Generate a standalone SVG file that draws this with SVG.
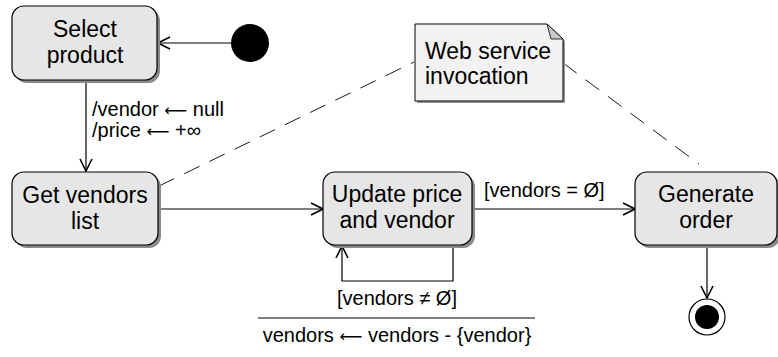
<svg xmlns="http://www.w3.org/2000/svg" width="778" height="357" viewBox="0 0 778 357">
<style>
.node{fill:#e6e6e6;stroke:#000;stroke-width:1.2}
.shadow{fill:#8a8a8a}
.t{font-family:"Liberation Sans",Arial,sans-serif;font-size:23px;fill:#000}
.c{text-anchor:middle}
.l{font-family:"Liberation Sans",Arial,sans-serif;font-size:20px;fill:#000}
.a{font-family:"DejaVu Sans",sans-serif;font-size:16px}
.e{fill:none;stroke:#000;stroke-width:1.2}
.d{fill:none;stroke:#000;stroke-width:0.9;stroke-dasharray:17 11}
</style>
<defs>
<marker id="open" viewBox="0 0 14 14" refX="13" refY="7" markerWidth="14" markerHeight="14" markerUnits="userSpaceOnUse" orient="auto">
<path d="M1,1 L13,7 L1,13" fill="none" stroke="#000" stroke-width="1.6"/>
</marker>
</defs>
<g id="edges">
<path class="e" d="M231,43 H158" marker-end="url(#open)"/>
<path class="e" d="M86,80 V171" marker-end="url(#open)"/>
<path class="e" d="M158,209 H323" marker-end="url(#open)"/>
<path class="e" d="M472,209 H635" marker-end="url(#open)"/>
<path class="e" d="M453,245 V281 H342 V246" marker-end="url(#open)"/>
<path class="e" d="M707,245 V298" marker-end="url(#open)"/>
<path class="d" d="M159,186 L414,62"/>
<path class="d" d="M563,63 L699,164"/>
<text class="l" x="92" y="116">/vendor <tspan class="a">⟵</tspan> null</text>
<text class="l" x="92" y="137">/price <tspan class="a">⟵</tspan> +∞</text>
<text class="l" x="484" y="197">[vendors = Ø]</text>
<text class="l c" x="397" y="305">[vendors ≠ Ø]</text>
<line x1="258" y1="318" x2="535" y2="318" stroke="#000" stroke-width="1"/>
<text class="l c" x="397" y="342">vendors <tspan class="a">⟵</tspan> vendors - {vendor}</text>
</g>
<g id="initial">
<circle cx="250" cy="43" r="19" fill="#000"/>
</g>
<g id="select-product">
<rect class="shadow" x="15" y="9" width="145" height="74" rx="12"/>
<rect class="node" x="12" y="6" width="145" height="74" rx="12"/>
<text class="t c" x="85" y="37">Select</text>
<text class="t c" x="85" y="63">product</text>
</g>
<g id="get-vendors">
<rect class="shadow" x="15" y="175" width="146" height="73" rx="12"/>
<rect class="node" x="12" y="172" width="146" height="73" rx="12"/>
<text class="t c" x="85" y="203">Get vendors</text>
<text class="t c" x="85" y="229">list</text>
</g>
<g id="update-price">
<rect class="shadow" x="326" y="175" width="149" height="73" rx="12"/>
<rect class="node" x="323" y="172" width="149" height="73" rx="12"/>
<text class="t c" x="397" y="202">Update price</text>
<text class="t c" x="397" y="228">and vendor</text>
</g>
<g id="generate-order">
<rect class="shadow" x="638" y="175" width="142" height="73" rx="12"/>
<rect class="node" x="635" y="172" width="142" height="73" rx="12"/>
<text class="t c" x="706" y="202">Generate</text>
<text class="t c" x="706" y="228">order</text>
</g>
<g id="final">
<circle cx="707" cy="317" r="18" fill="#fff" stroke="#000" stroke-width="1.2"/>
<circle cx="707" cy="317" r="12" fill="#000"/>
</g>
<g id="note">
<path d="M417,26 H549 L565,41 V103 H417 Z" fill="#999"/>
<path d="M415,24 H547 L563,39 V101 H415 Z" fill="#f2f2f2" stroke="#000" stroke-width="1"/>
<path d="M547,24 L563,39 H551 Z" fill="#c8c8c8" stroke="#000" stroke-width="0.8"/>
<text class="t" x="425" y="59">Web service</text>
<text class="t" x="425" y="84">invocation</text>
</g>
</svg>
